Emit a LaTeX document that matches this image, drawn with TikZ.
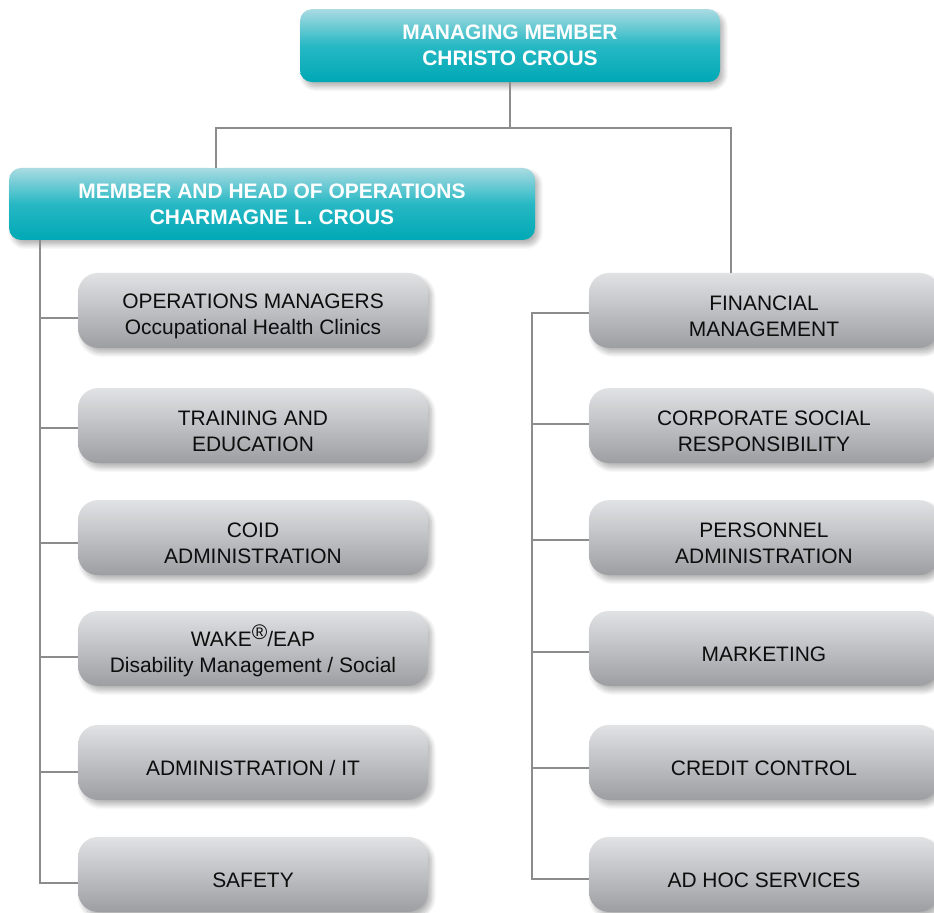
\documentclass[tikz,border=0pt]{standalone}
\usepackage{fontspec}
\setmainfont{Liberation Sans}
\usetikzlibrary{calc, shadows.blur}
\definecolor{tealtop}{RGB}{170,219,226}
\definecolor{tealmid}{RGB}{38,184,196}
\definecolor{tealbot}{RGB}{0,168,181}
\definecolor{greytop}{RGB}{225,226,228}
\definecolor{greybot}{RGB}{157,158,162}
\definecolor{linegrey}{RGB}{140,140,142}
\newcommand{\dropline}{\rule{0pt}{19pt}}
\newcommand{\regmark}{\raisebox{0.62ex}{\fontsize{15}{15}\selectfont\textregistered}}
\tikzset{every node/.style={align=center}}
\tikzset{softshadow/.style={blur shadow={shadow xshift=0.09cm, shadow yshift=-0.12cm, shadow opacity=30, shadow blur radius=0.12cm, shadow blur steps=8}}}
\tikzset{leadbox/.style={softshadow, rounded corners=0.3cm, top color=tealtop, bottom color=tealbot, middle color=tealmid, text=white, font=\fontsize{14.9}{18.5}\selectfont\bfseries}}
\tikzset{unitbox/.style={softshadow, rounded corners=0.5cm, top color=greytop, bottom color=greybot, text=black!95, minimum width=8.75cm, minimum height=1.875cm, font=\fontsize{14.9}{18.5}\selectfont}}
\tikzset{conn/.style={line width=1.4pt, linegrey}}

\begin{document}
\begin{tikzpicture}

		\useasboundingbox (0,0) rectangle (23.35,22.8);

		% Lead boxes
		\node[leadbox, minimum width=10.5cm, minimum height=1.825cm] (mm) at (12.75,21.66) {MANAGING MEMBER\\CHRISTO CROUS};
		\node[leadbox, minimum width=13.15cm, minimum height=1.8cm] (head) at (6.8,17.7) {MEMBER AND HEAD OF OPERATIONS\\CHARMAGNE L. CROUS};

		% Operations column
		\node[unitbox] (ops) at (6.325,15.04) {\dropline OPERATIONS MANAGERS\\Occupational Health Clinics};
		\node[unitbox] (train) at (6.325,12.16) {\dropline TRAINING AND\\EDUCATION};
		\node[unitbox] (coid) at (6.325,9.36) {\dropline COID\\ADMINISTRATION};
		\node[unitbox] (wake) at (6.325,6.59) {\dropline WAKE\regmark/EAP\\Disability Management / Social};
		\node[unitbox] (admin) at (6.325,3.74) {\dropline ADMINISTRATION / IT};
		\node[unitbox] (safety) at (6.325,0.94) {\dropline SAFETY};

		% Finance column
		\node[unitbox] (fin) at (19.1,15.04) {\dropline FINANCIAL\\MANAGEMENT};
		\node[unitbox] (csr) at (19.1,12.16) {\dropline CORPORATE SOCIAL\\RESPONSIBILITY};
		\node[unitbox] (pers) at (19.1,9.36) {\dropline PERSONNEL\\ADMINISTRATION};
		\node[unitbox] (mkt) at (19.1,6.59) {\dropline MARKETING};
		\node[unitbox] (credit) at (19.1,3.74) {\dropline CREDIT CONTROL};
		\node[unitbox] (adhoc) at (19.1,0.94) {\dropline AD HOC SERVICES};

		% Coordinates
		\coordinate (barL) at (5.4,19.6);
		\coordinate (barR) at (18.275,19.6);
		\coordinate (spineL) at (1,0);

		% Top connectors
		\draw[conn] (mm.south) -- (mm.south |- barL);
		\draw[conn] (head.north -| barL) -- (barL) -- (barR) -- (fin.north -| barR);

		% Left connectors
		\draw[conn] (head.south -| spineL) |- ($(safety.west)+(0,-0.21)$);
		\draw[conn] ($(ops.west)+(0,-0.19)$) -- ++(-0.95,0);
		\draw[conn] ($(train.west)+(0,-0.06)$) -- ++(-0.95,0);
		\draw[conn] ($(coid.west)+(0,-0.14)$) -- ++(-0.95,0);
		\draw[conn] ($(wake.west)+(0,-0.21)$) -- ++(-0.95,0);
		\draw[conn] ($(admin.west)+(0,-0.23)$) -- ++(-0.95,0);

		% Right connectors
		\draw[conn] ($(fin.west)+(0,-0.06)$) -- ++(-1.425,0) |- ($(adhoc.west)+(0,-0.11)$);
		\draw[conn] ($(csr.west)+(0,0.04)$) -- ++(-1.425,0);
		\draw[conn] ($(pers.west)+(0,-0.06)$) -- ++(-1.425,0);
		\draw[conn] ($(mkt.west)+(0,-0.09)$) -- ++(-1.425,0);
		\draw[conn] ($(credit.west)+(0,-0.14)$) -- ++(-1.425,0);
	\end{tikzpicture}
\end{document}
